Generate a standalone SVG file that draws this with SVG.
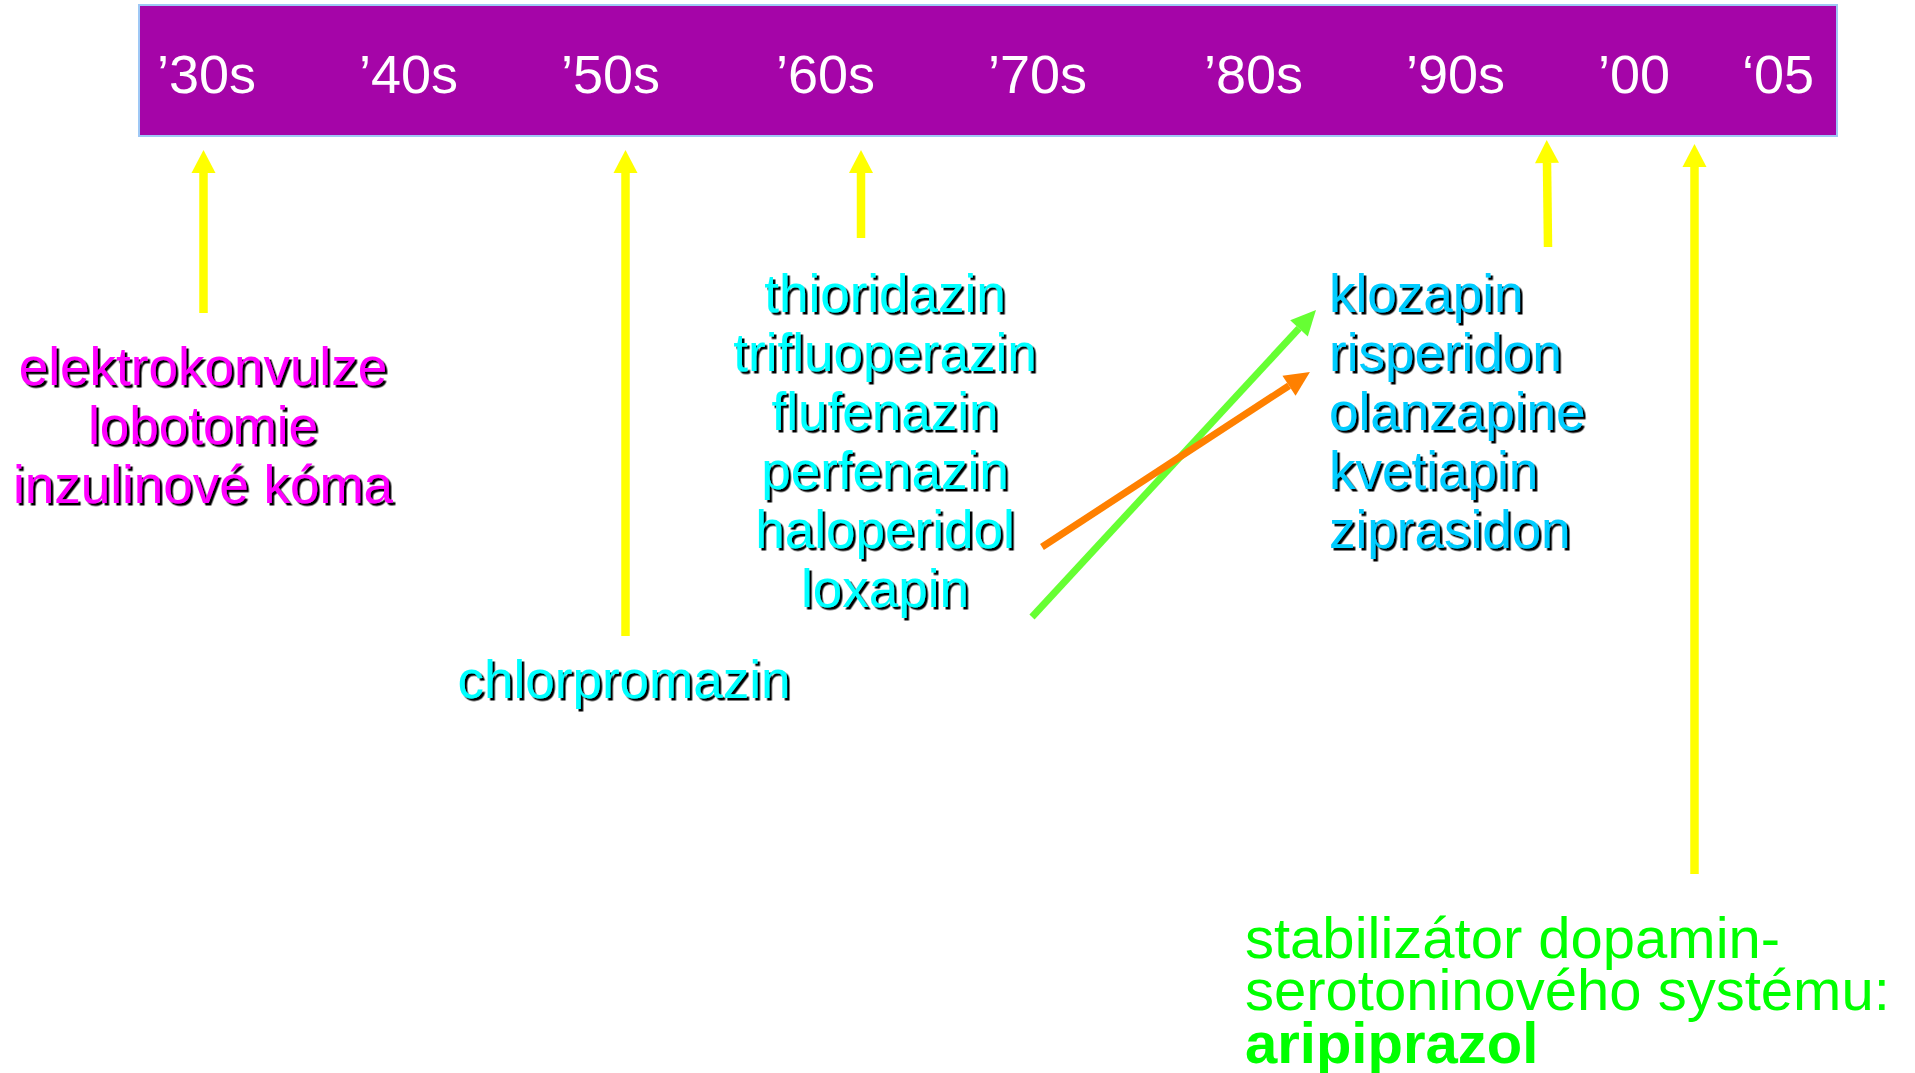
<svg xmlns="http://www.w3.org/2000/svg" width="1915" height="1073" viewBox="0 0 1915 1073">
<style>
text{font-family:"Liberation Sans",Arial,sans-serif}
.yr{font-size:54px;fill:#FFFFFF}
.lbl{font-size:53px;filter:url(#sh)}
.mag{fill:#FF00FF}
.cy{fill:#00FFFF}
.cy2{fill:#00CCFF}
.grn{font-size:58px;fill:#00FF00}
.ya{stroke:#FFFF00;stroke-width:8.5;fill:none;marker-end:url(#hy)}
</style>
<defs>
<filter id="sh" x="-5%" y="-20%" width="110%" height="140%">
<feDropShadow dx="2.5" dy="2.5" stdDeviation="0" flood-color="#000000" flood-opacity="1"/>
</filter>
<marker id="hy" markerUnits="userSpaceOnUse" markerWidth="24" markerHeight="24" refX="0" refY="12" orient="auto" overflow="visible">
<path d="M0,0 L23,12 L0,24 z" fill="#FFFF00"/>
</marker>
<marker id="hg" markerUnits="userSpaceOnUse" markerWidth="25" markerHeight="24" refX="0" refY="12" orient="auto" overflow="visible">
<path d="M0,0 L25,12 L0,24 z" fill="#66FF33"/>
</marker>
<marker id="ho" markerUnits="userSpaceOnUse" markerWidth="25" markerHeight="24" refX="0" refY="12" orient="auto" overflow="visible">
<path d="M0,0 L25,12 L0,24 z" fill="#FF8000"/>
</marker>
</defs>
<rect width="1915" height="1073" fill="#FFFFFF"/>

<g id="timeline">
<rect x="139" y="5" width="1698" height="131" fill="#A505A8" stroke="#9FC8F5" stroke-width="2"/>
<text class="yr" x="157" y="93">’30s</text>
<text class="yr" x="359" y="93">’40s</text>
<text class="yr" x="561" y="93">’50s</text>
<text class="yr" x="776" y="93">’60s</text>
<text class="yr" x="988" y="93">’70s</text>
<text class="yr" x="1204" y="93">’80s</text>
<text class="yr" x="1406" y="93">’90s</text>
<text class="yr" x="1598" y="93">’00</text>
<text class="yr" x="1742" y="93">‘05</text>
</g>

<g id="connectors">
<line class="ya" x1="203.5" y1="313" x2="203.5" y2="173"/>
<line class="ya" x1="625.5" y1="636" x2="625.5" y2="173"/>
<line class="ya" x1="861" y1="238" x2="861" y2="173"/>
<line class="ya" x1="1548" y1="247" x2="1547" y2="163"/>
<line class="ya" x1="1694.5" y1="874" x2="1694.5" y2="167"/>
<line x1="1032" y1="617" x2="1299" y2="328.4" stroke="#66FF33" stroke-width="7" marker-end="url(#hg)"/>
<line x1="1042" y1="547" x2="1289" y2="385.7" stroke="#FF8000" stroke-width="7" marker-end="url(#ho)"/>
</g>

<g id="early-treatments">
<text class="lbl mag" text-anchor="middle" x="203" y="385">elektrokonvulze</text>
<text class="lbl mag" text-anchor="middle" x="203" y="444">lobotomie</text>
<text class="lbl mag" text-anchor="middle" x="203" y="503">inzulinové kóma</text>
</g>

<g id="chlorpromazin">
<text class="lbl cy" text-anchor="middle" x="624" y="698">chlorpromazin</text>
</g>

<g id="typical">
<text class="lbl cy" text-anchor="middle" x="885" y="312">thioridazin</text>
<text class="lbl cy" text-anchor="middle" x="885" y="371">trifluoperazin</text>
<text class="lbl cy" text-anchor="middle" x="885" y="430">flufenazin</text>
<text class="lbl cy" text-anchor="middle" x="885" y="489">perfenazin</text>
<text class="lbl cy" text-anchor="middle" x="885" y="548">haloperidol</text>
<text class="lbl cy" text-anchor="middle" x="885" y="607">loxapin</text>
</g>

<g id="atypical">
<text class="lbl cy2" x="1329" y="312">klozapin</text>
<text class="lbl cy2" x="1329" y="371">risperidon</text>
<text class="lbl cy2" x="1329" y="430">olanzapine</text>
<text class="lbl cy2" x="1329" y="489">kvetiapin</text>
<text class="lbl cy2" x="1329" y="548">ziprasidon</text>
</g>

<g id="aripiprazol">
<text class="grn" x="1245" y="958">stabilizátor dopamin-</text>
<text class="grn" x="1245" y="1010">serotoninového systému:</text>
<text class="grn" x="1245" y="1063" font-weight="bold">aripiprazol</text>
</g>
</svg>
